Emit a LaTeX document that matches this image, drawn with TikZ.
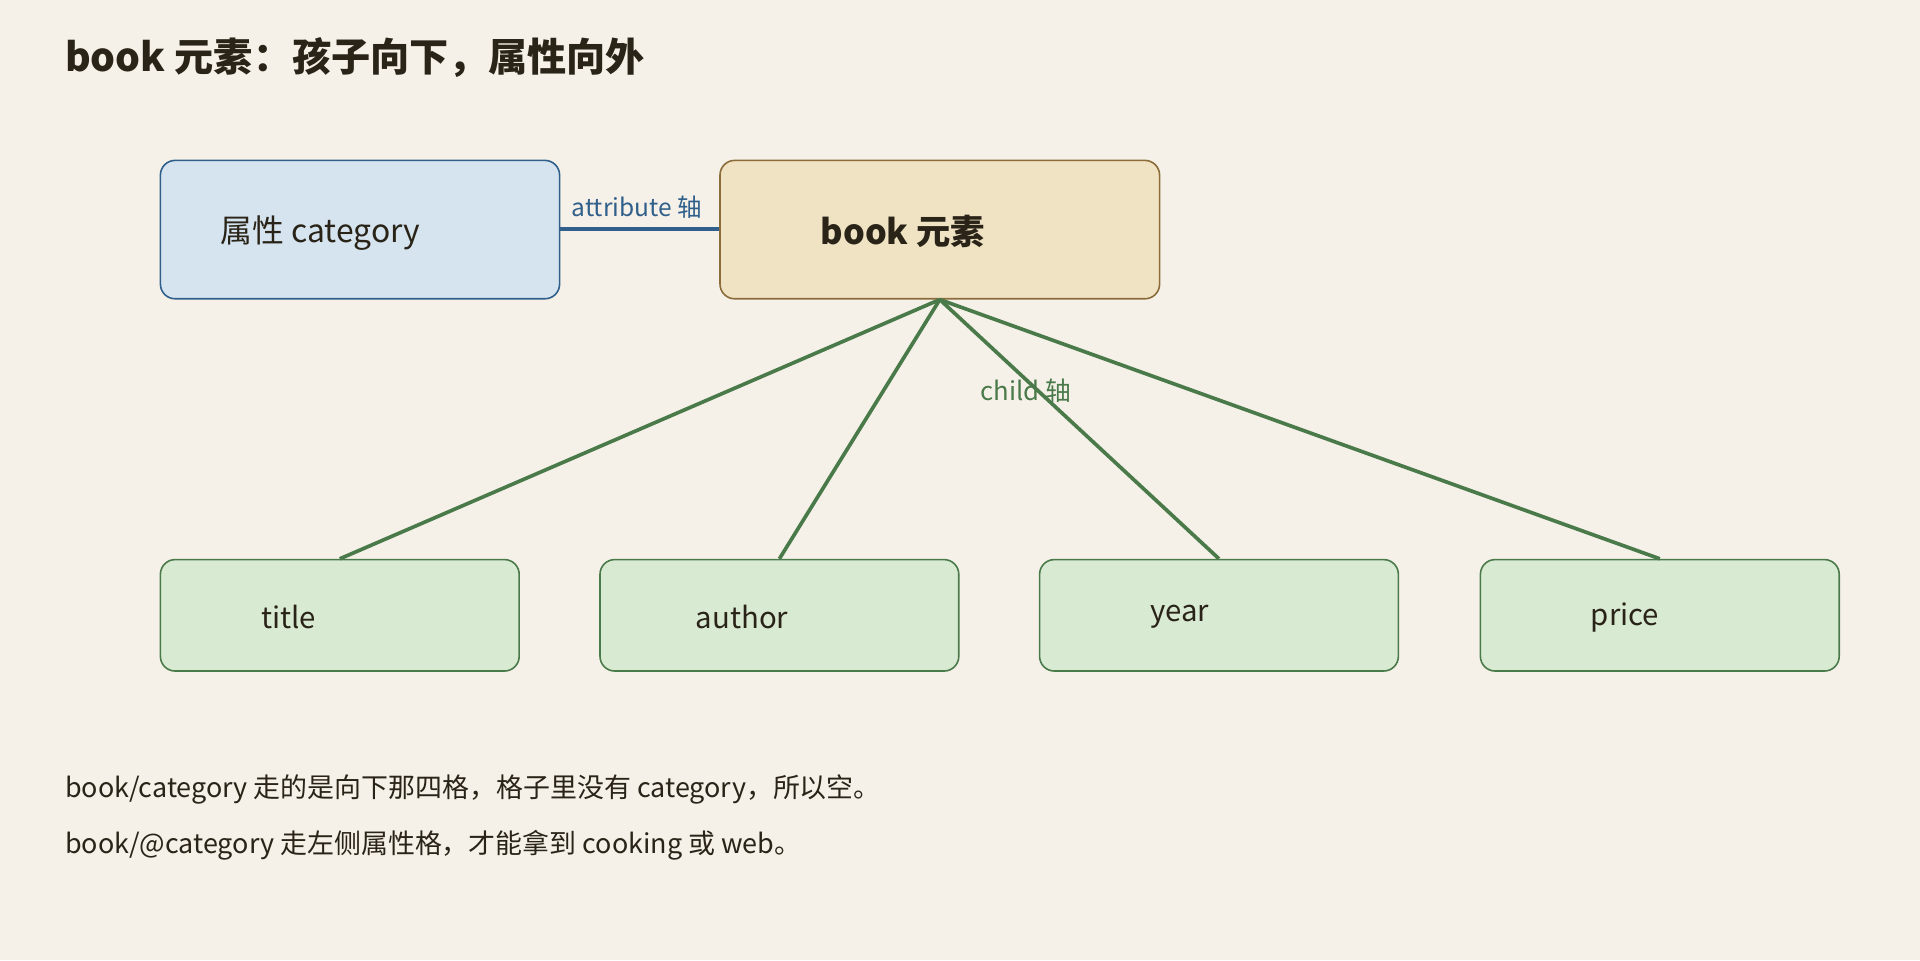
\documentclass[tikz,border=0pt]{standalone}
\usepackage{fontspec}
\setmainfont{Noto Sans CJK SC}
\definecolor{bg}{HTML}{F5F1E8}
\definecolor{attrfill}{HTML}{D6E4F0}
\definecolor{attrline}{HTML}{2F5F8A}
\definecolor{bookfill}{HTML}{F0E3C4}
\definecolor{bookline}{HTML}{8B6B3A}
\definecolor{kidfill}{HTML}{D9EAD3}
\definecolor{kidline}{HTML}{4A7A4A}
\definecolor{ink}{HTML}{2A2418}
\begin{document}
\begin{tikzpicture}[x=1pt,y=-1pt,
  box/.style={draw,rounded corners=12pt,line width=1.3pt,inner sep=0pt},
  kid/.style={box,fill=kidfill,draw=kidline,minimum width=293pt,minimum height=91pt},
  kidtxt/.style={anchor=west,font=\fontsize{24}{28}\selectfont,text=ink,inner sep=0pt},
  edge/.style={draw=kidline,line width=3pt}]
\fill[bg] (0,0) rectangle (1568,784);
\useasboundingbox (0,0) rectangle (1568,784);
\node[anchor=west,inner sep=0pt,text=ink,font=\fontsize{32}{36}\selectfont\bfseries] (title) at (53,47) {book 元素：孩子向下，属性向外};
\node[box,fill=attrfill,draw=attrline,minimum width=326pt,minimum height=113pt] (attr) at (294,187.5) {};
\node[anchor=west,inner sep=0pt,text=ink,font=\fontsize{26}{30}\selectfont] (attrt) at (180,190) {属性 category};
\node[box,fill=bookfill,draw=bookline,minimum width=359pt,minimum height=113pt] (book) at (767.5,187.5) {};
\node[anchor=west,inner sep=0pt,text=ink,font=\fontsize{28}{32}\selectfont\bfseries] (bookt) at (670,189) {book 元素};
\draw[draw=attrline,line width=4pt] (attr.east |- 0,187) -- (book.west |- 0,187);
\node[text=attrline,font=\fontsize{20}{24}\selectfont,inner sep=0pt] (al) at (520,169) {attribute 轴};
\node[kid] (k1) at (277.5,502.5) {};
\node[kid] (k2) at (636.5,502.5) {};
\node[kid] (k3) at (995.5,502.5) {};
\node[kid] (k4) at (1355.5,502.5) {};
\node[kidtxt] (t1) at (213,504) {title};
\node[kidtxt] (t2) at (568,504) {author};
\node[kidtxt] (t3) at (939,504) {year};
\node[kidtxt] (t4) at (1299,504) {price};
\foreach \k in {k1,k2,k3,k4} \draw[edge] (book.south) -- (\k.north);
\node[text=kidline,font=\fontsize{21}{24}\selectfont,inner sep=0pt] (cl) at (838,319) {child 轴};
\node[anchor=west,inner sep=0pt,text=ink,font=\fontsize{22}{26}\selectfont] (n1) at (53,645) {book/category 走的是向下那四格，格子里没有 category，所以空。};
\node[anchor=west,inner sep=0pt,text=ink,font=\fontsize{22}{26}\selectfont] (n2) at (53,690) {book/@category 走左侧属性格，才能拿到 cooking 或 web。};
\end{tikzpicture}
\end{document}
